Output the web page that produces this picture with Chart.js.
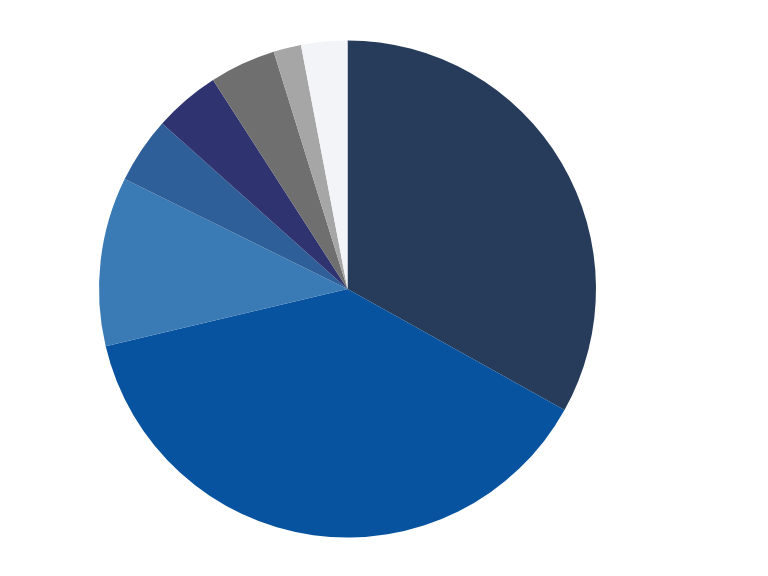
<!DOCTYPE html>
<html>
<head>
<meta charset="utf-8">
<script src="https://cdn.jsdelivr.net/npm/chart.js@4"></script>
<style>
  html, body { margin: 0; padding: 0; background: #fff; }
  #wrap { width: 768px; height: 576px; }
</style>
</head>
<body>
<div id="wrap"><canvas id="pieChart" width="768" height="576"></canvas></div>
<script>
// slice shares (percent), clockwise from 12 o'clock
var labels = ["A", "B", "C", "D", "E", "F", "G", "H"];
var values = [33.1, 38.2, 11.0, 4.3, 4.3, 4.3, 1.8, 3.0];
var colors = ["#263C5A", "#08539F", "#3A7AB5", "#2E5F99", "#2F3470", "#6F6F6F", "#A6A6A6", "#F3F4F7"];

var ctx = document.getElementById("pieChart").getContext("2d");

new Chart(ctx, {
  type: 'pie',
  data: {
    labels: labels,
    datasets: [{
      data: values,
      backgroundColor: colors,
      borderWidth: 0
    }]
  },
  options: {
    responsive: false,
    animation: false,
    layout: {
      padding: { left: 99, right: 172, top: 40, bottom: 38 }
    },
    plugins: {
      legend: { display: false },
      tooltip: { enabled: false }
    }
  }
});
</script>
</body>
</html>
